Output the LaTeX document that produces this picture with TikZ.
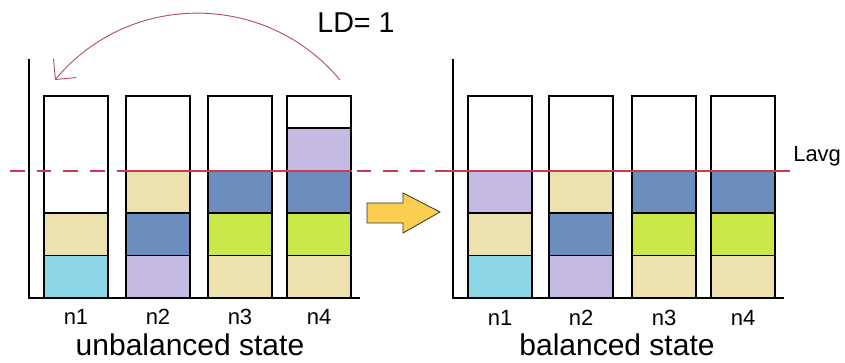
\documentclass[tikz,border=0pt]{standalone}
\usepackage{fontspec}
\setmainfont{Liberation Sans}
\usetikzlibrary{arrows.meta}

\definecolor{cCyan}{RGB}{140,214,230}
\definecolor{cTan}{RGB}{237,225,175}
\definecolor{cLav}{RGB}{196,186,228}
\definecolor{cBlue}{RGB}{108,142,190}
\definecolor{cGreen}{RGB}{202,232,72}
\definecolor{cYellow}{RGB}{250,206,80}
\definecolor{cRed}{RGB}{200,60,80}
\definecolor{cCurve}{RGB}{180,80,100}

\tikzset{
  slot/.style={draw=black, line width=1.1pt},
  axis/.style={draw=black, line width=1.1pt},
  lavg/.style={draw=cRed, line width=0.8pt},
  nlabel/.style={anchor=base, inner sep=0pt, text depth=0pt, font=\fontsize{16.5}{18}\selectfont},
  statelabel/.style={anchor=base, inner sep=0pt, text height=16pt, font=\fontsize{22.5}{26}\selectfont},
}

\begin{document}
\begin{tikzpicture}[x=0.75pt, y=-0.75pt]
\useasboundingbox (0,0) rectangle (845,363);

% columns, blocks from the bottom up
\foreach \x/\cols in {44/{cCyan,cTan}, 126/{cLav,cBlue,cTan},
    208/{cTan,cGreen,cBlue}, 287/{cTan,cGreen,cBlue,cLav},
    468/{cCyan,cTan,cLav}, 549/{cLav,cBlue,cTan},
    632/{cTan,cGreen,cBlue}, 711/{cTan,cGreen,cBlue}}
{
  \draw[slot, fill=white] (\x,96) rectangle ++(64,202);
  \foreach \c [count=\i from 0] in \cols
    \draw[slot, fill=\c] (\x,298-42.5*\i) rectangle ++(64,-42.5);
}

% axes
\draw[axis] (29,59) -- (29,298) -- (360,298);
\draw[axis] (453,59) -- (453,298) -- (784,298);

% average load line
\coordinate (lavgL) at (10,171);
\coordinate (lavgM) at (435,171);
\coordinate (lavgR) at (790,171);
\draw[lavg, dash pattern=on 11pt off 9pt] (lavgL) -- (lavgM);
\draw[lavg] (126,171) -- (352,171);
\draw[lavg] (lavgM) -- (lavgR);
\node[anchor=base west, inner sep=0pt, font=\fontsize{16.5}{18}\selectfont] (lavgtxt) at (793,162) {Lavg};

% moving one unit from n4 to n1
\coordinate (from) at (340,80);
\coordinate (to) at (55,80);
\draw[cCurve, line width=0.7pt, -{Straight Barb[length=11pt, width=22pt]}]
  (from) .. controls (266,-9) and (129,-9) .. (to);
\node[anchor=base, inner sep=0pt, font=\fontsize{21.5}{24}\selectfont] (ld) at (356,33) {LD= 1};

% big arrow
\filldraw[fill=cYellow, draw=black!80, line width=0.6pt]
  (367,203) -- (403,203) -- (403,193) -- (440,212) -- (403,233)
  -- (403,223) -- (367,223) -- cycle;

% labels
\foreach \x [count=\i] in {76,158,240,319}
  \node[nlabel] (ln\i) at (\x,324) {n\i};
\foreach \x [count=\i] in {500,581,664,743}
  \node[nlabel] (rn\i) at (\x,325) {n\i};
\node[statelabel] (unbal) at (190,355) {unbalanced state};
\node[statelabel] (bal) at (617,355) {balanced state};

\end{tikzpicture}
\end{document}
